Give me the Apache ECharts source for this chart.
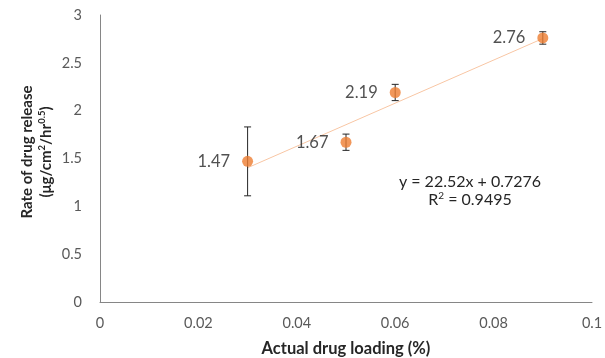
<!DOCTYPE html>
<html><head><meta charset="utf-8">
<script src="https://cdn.jsdelivr.net/npm/echarts@6/dist/echarts.min.js"></script>
<style>html,body{margin:0;padding:0;background:#fff}#c{width:605px;height:358px}</style>
</head><body><div id="c"></div>
<script>
var xValues = [0.03, 0.05, 0.06, 0.09];
var yValues = [1.47, 1.67, 2.19, 2.76];
var errValues = [0.36, 0.085, 0.085, 0.065];
var pointLabels = ['1.47', '1.67', '2.19', '2.76'];
var trendX = [0.03, 0.09];
var trendY = [1.403, 2.754];
var xTicks = [0, 0.02, 0.04, 0.06, 0.08, 0.1];
var yTicks = [0, 0.5, 1, 1.5, 2, 2.5, 3];

var FONT = 'Lato';
var chart = echarts.init(document.getElementById('c'));
var scatterData = xValues.map(function (x, i) { return [x, yValues[i]]; });
var errData = xValues.map(function (x, i) { return [x, yValues[i] - errValues[i], yValues[i] + errValues[i]]; });
var trendData = trendX.map(function (x, i) { return [x, trendY[i]]; });

chart.setOption({
  animation: false,
  grid: { left: 100, right: 13, top: 15, bottom: 56, containLabel: false, outerBoundsMode: 'none' },
  xAxis: {
    type: 'value', min: 0, max: 0.1, interval: 0.02,
    axisLine: { show: true, lineStyle: { color: '#868686', width: 1 } },
    axisTick: { show: false }, splitLine: { show: false },
    axisLabel: { color: '#595959', fontFamily: FONT, fontSize: 14.5, margin: 14,
      formatter: function (v) { return String(+v.toFixed(2)); } },
    name: 'Actual drug loading (%)', nameLocation: 'middle', nameGap: 38,
    nameTextStyle: { color: '#262626', fontFamily: FONT, fontSize: 16.5, fontWeight: 'bold' }
  },
  yAxis: {
    type: 'value', min: 0, max: 3, interval: 0.5,
    axisLine: { show: true, lineStyle: { color: '#868686', width: 1 } },
    axisTick: { show: false }, splitLine: { show: false },
    axisLabel: { color: '#595959', fontFamily: FONT, fontSize: 14.5, margin: 18 }
  },
  graphic: [{
    type: 'text', x: 37, y: 152, rotation: Math.PI / 2,
    style: {
      text: '{b|Rate of drug release}\n{b|(μg/cm}{s|2}{b|/hr}{s|0.5}{b|)}',
      textAlign: 'center', textVerticalAlign: 'middle', fill: '#262626',
      rich: {
        b: { fontFamily: FONT, fontSize: 15, fontWeight: 'bold', fill: '#262626', lineHeight: 19 },
        s: { fontFamily: FONT, fontSize: 9.5, fontWeight: 'bold', fill: '#262626', verticalAlign: 'top', lineHeight: 19 }
      }
    }
  }, {
    type: 'text', x: 470, y: 182,
    style: {
      text: 'y = 22.52x + 0.7276', textAlign: 'center', textVerticalAlign: 'middle',
      fill: '#262626', fontFamily: FONT, fontSize: 16
    }
  }, {
    type: 'text', x: 470, y: 200,
    style: {
      text: '{a|R}{s|2}{a| = 0.9495}', textAlign: 'center', textVerticalAlign: 'middle',
      rich: {
        a: { fill: '#262626', fontFamily: FONT, fontSize: 16, lineHeight: 18 },
        s: { fill: '#262626', fontFamily: FONT, fontSize: 10, verticalAlign: 'top', lineHeight: 18 }
      }
    }
  }],
  series: [{
    type: 'line', data: trendData, symbol: 'none',
    lineStyle: { color: '#F8C6A4', width: 1 }, z: 1
  }, {
    type: 'custom', data: errData, z: 2,
    renderItem: function (params, api) {
      var lo = api.coord([api.value(0), api.value(1)]);
      var hi = api.coord([api.value(0), api.value(2)]);
      var w = 3.5;
      var st = { stroke: '#262626', lineWidth: 1 };
      return { type: 'group', children: [
        { type: 'line', shape: { x1: lo[0], y1: lo[1], x2: hi[0], y2: hi[1] }, style: st },
        { type: 'line', shape: { x1: lo[0] - w, y1: lo[1], x2: lo[0] + w, y2: lo[1] }, style: st },
        { type: 'line', shape: { x1: hi[0] - w, y1: hi[1], x2: hi[0] + w, y2: hi[1] }, style: st }
      ]};
    },
    encode: { x: 0, y: [1, 2] }
  }, {
    type: 'scatter', data: scatterData, symbol: 'circle', symbolSize: 11, z: 3,
    itemStyle: { color: '#ED7D31' },
    label: {
      show: true, position: 'left', distance: 12,
      formatter: function (p) { return pointLabels[p.dataIndex]; },
      color: '#262626', fontFamily: FONT, fontSize: 16.5
    }
  }]
});
</script></body></html>
